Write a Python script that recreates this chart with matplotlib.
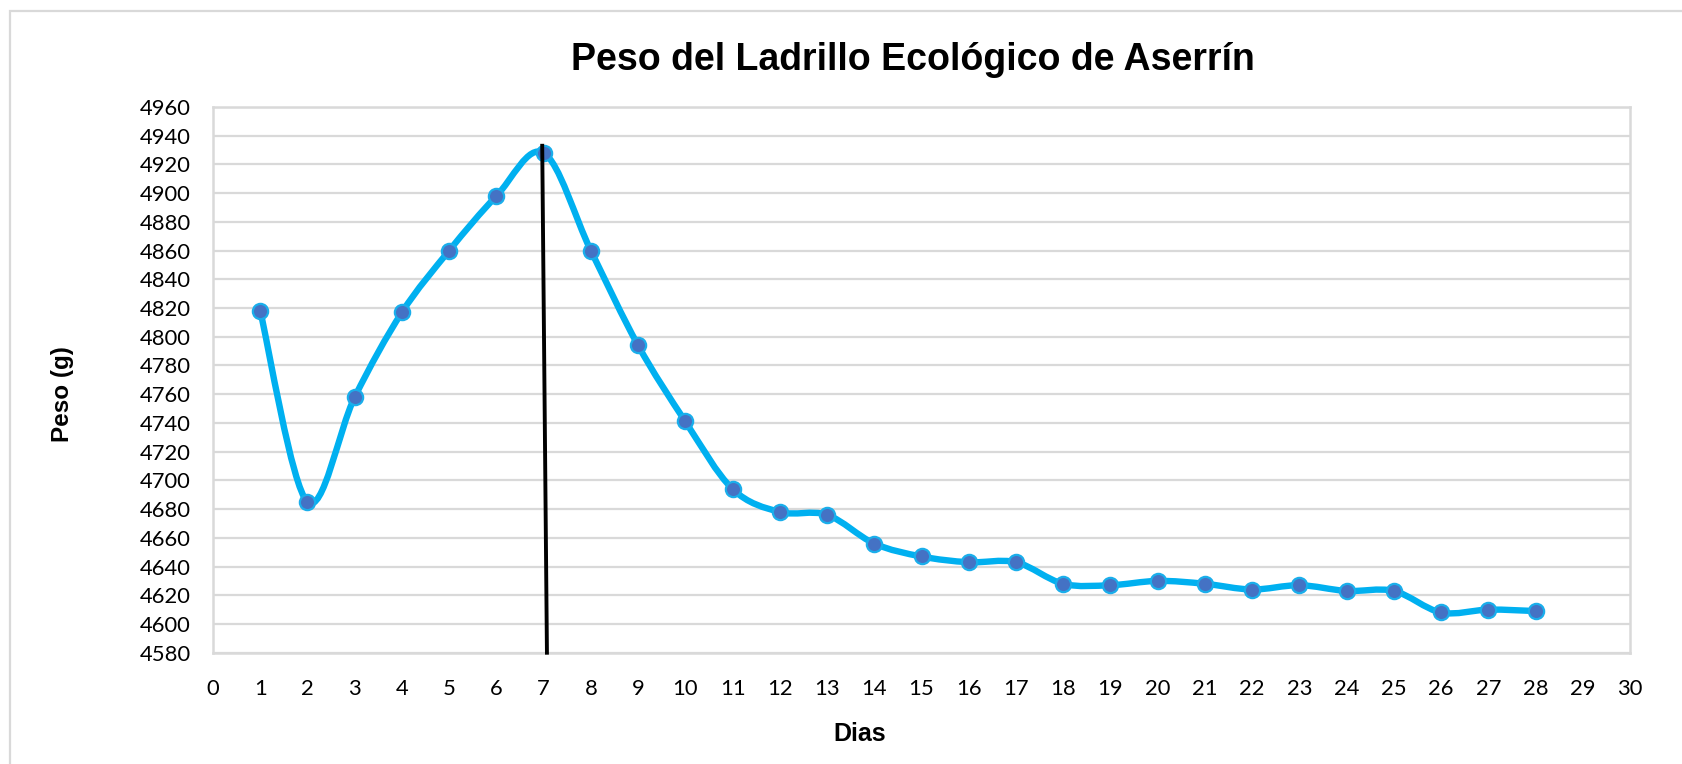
import numpy as np
import matplotlib
matplotlib.use("Agg")
import matplotlib.pyplot as plt
from matplotlib.path import Path
from matplotlib.patches import PathPatch, Rectangle

# Daily weight of the sawdust eco-brick
dias = list(range(1, 29))
peso = [4818, 4685, 4758, 4817, 4860, 4898, 4928, 4860, 4794, 4741,
        4694, 4678, 4676, 4656, 4647, 4643, 4643, 4628, 4627, 4630,
        4628, 4624, 4627, 4623, 4623, 4608, 4610, 4609]

# Vertical reference stroke at the peak day
ref_x = [6.97, 7.07]
ref_y = [4933, 4580]

x_ticks = list(range(0, 31))
y_ticks = list(range(4580, 4961, 20))

titulo = "Peso del Ladrillo Ecológico de Aserrín"
etiqueta_x = "Dias"
etiqueta_y = "Peso (g)"

W, H = 1682, 764
fig = plt.figure(figsize=(W / 100, H / 100), dpi=100)
fig.patch.set_facecolor("white")

# chart-area frame (runs off the right and bottom edges)
fig.patches.append(Rectangle((10 / W, -0.1), 1.2, 1 - 11 / H + 0.1,
                             transform=fig.transFigure, fill=False,
                             edgecolor="#D9D9D9", linewidth=1.6))

ax = fig.add_axes([213 / W, 1 - 652.7 / H, (1630 - 213) / W, (652.7 - 107) / H])
ax.set_xlim(0, 30)
ax.set_ylim(4580, 4960)
ax.set_xticks(x_ticks)
ax.set_yticks(y_ticks)
ax.grid(axis="y", color="#D9D9D9", linewidth=1.6)
ax.set_axisbelow(True)
for s in ax.spines.values():
    s.set_color("#D9D9D9")
    s.set_linewidth(1.8)
ax.tick_params(length=0, labelsize=15.8, labelcolor="black")
ax.tick_params(axis="x", pad=19)
ax.tick_params(axis="y", pad=16)
for lab in ax.get_xticklabels() + ax.get_yticklabels():
    lab.set_fontfamily("Lato")

# smoothed line through the points (cubic Bezier, Catmull-Rom style tangents)
x = np.array(dias, dtype=float)
y = np.array(peso, dtype=float)
pts = np.column_stack([x, y])
ext = np.vstack([pts[0], pts, pts[-1]])
verts = [tuple(pts[0])]
codes = [Path.MOVETO]
for i in range(len(pts) - 1):
    p0, p1, p2, p3 = ext[i], ext[i + 1], ext[i + 2], ext[i + 3]
    c1 = p1 + (p2 - p0) / 6.0
    c2 = p2 - (p3 - p1) / 6.0
    verts += [tuple(c1), tuple(c2), tuple(p2)]
    codes += [Path.CURVE4] * 3
curve = PathPatch(Path(verts, codes), facecolor="none", edgecolor="#00B0F0",
                  linewidth=4.6, capstyle="round", joinstyle="round", zorder=3)
ax.add_patch(curve)
ax.plot(dias, peso, linestyle="none", marker="o", markersize=11,
        markerfacecolor="#4472C4", markeredgecolor="#1AAEEB",
        markeredgewidth=1.6, zorder=4)

ax.plot(ref_x, ref_y, color="black", linewidth=2.8, zorder=5, clip_on=False)

fig.text(913 / W, 1 - 60 / H, titulo, ha="center", va="center",
         fontsize=27, fontweight="bold", family="Liberation Sans")
fig.text(860 / W, 1 - 734 / H, etiqueta_x, ha="center", va="center",
         fontsize=18, fontweight="bold", family="Liberation Sans")
fig.text(63 / W, 1 - 394 / H, etiqueta_y, ha="center", va="center",
         rotation=90, fontsize=17.5, fontweight="bold", family="Liberation Sans")

fig.savefig("out.png", dpi=100, facecolor="white")
